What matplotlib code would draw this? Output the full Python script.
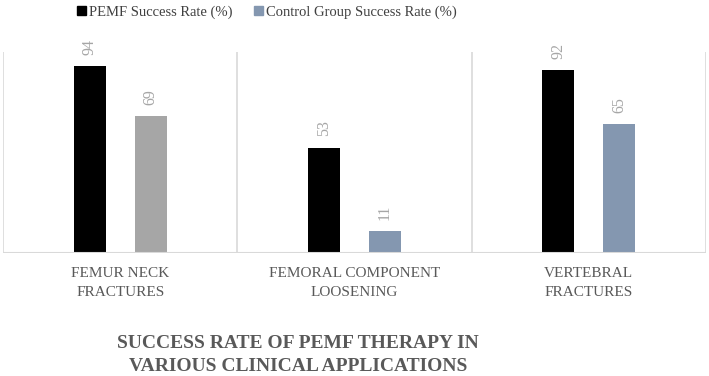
import matplotlib.pyplot as plt
from matplotlib.patches import Patch
import numpy as np

# data
categories = ["FEMUR NECK\nFRACTURES", "FEMORAL COMPONENT\nLOOSENING", "VERTEBRAL\nFRACTURES"]
pemf_rate = [94, 53, 92]
control_rate = [69, 11, 65]
series_names = ["PEMF Success Rate (%)", "Control Group Success Rate (%)"]
title = "SUCCESS RATE OF PEMF THERAPY IN\nVARIOUS CLINICAL APPLICATIONS"

plt.rcParams['font.family'] = ['Liberation Serif', 'DejaVu Serif']

pemf_color = "#000000"
ctrl_colors = ["#A6A6A6", "#8497B0", "#8497B0"]
grid_color = "#D9D9D9"
text_color = "#595959"

fig = plt.figure(figsize=(7.09, 3.76), dpi=100)
ax = fig.add_axes([3 / 709, 1 - 253 / 376, 703 / 709, 201 / 376])

x = np.arange(len(categories))
w = 0.137
off = 0.13
b1 = ax.bar(x - off, pemf_rate, w, color=pemf_color)
b2 = ax.bar(x + off, control_rate, w, color=ctrl_colors)

for bars in (b1, b2):
    for rect in bars:
        h = rect.get_height()
        ax.annotate(f"{h:g}", (rect.get_x() + rect.get_width() / 2, h),
                    xytext=(0, 8), textcoords="offset points",
                    rotation=90, ha="center", va="bottom",
                    fontsize=11.5, color="#A6A6A6")

ax.set_xlim(-0.5, len(categories) - 0.5)
ax.set_ylim(0, 101)
ax.set_yticks([])
ax.set_xticks([])
for s in ax.spines.values():
    s.set_visible(False)
# category separators and baseline
for xs in np.arange(-0.5, len(categories), 1.0):
    ax.axvline(xs, color=grid_color, lw=1.2)
ax.axhline(0, color=grid_color, lw=1.5)

for i, cat in enumerate(categories):
    ax.text(i, -7, cat, ha="center", va="top", fontsize=11,
            color=text_color, linespacing=1.6)

fig.text(298 / 709, 1 - 355 / 376, title, ha="center", va="center",
         fontsize=14, fontweight="bold", color=text_color, linespacing=1.45)

handles = [Patch(color=pemf_color), Patch(color="#8497B0")]
fig.legend(handles, series_names, loc="center", bbox_to_anchor=(267 / 709, 1 - 12 / 376),
           ncol=2, frameon=False, fontsize=10.5, handlelength=0.6, handleheight=0.6,
           handletextpad=0.2, columnspacing=1.5, labelcolor="#404040")

fig.savefig("out.png", dpi=100)
